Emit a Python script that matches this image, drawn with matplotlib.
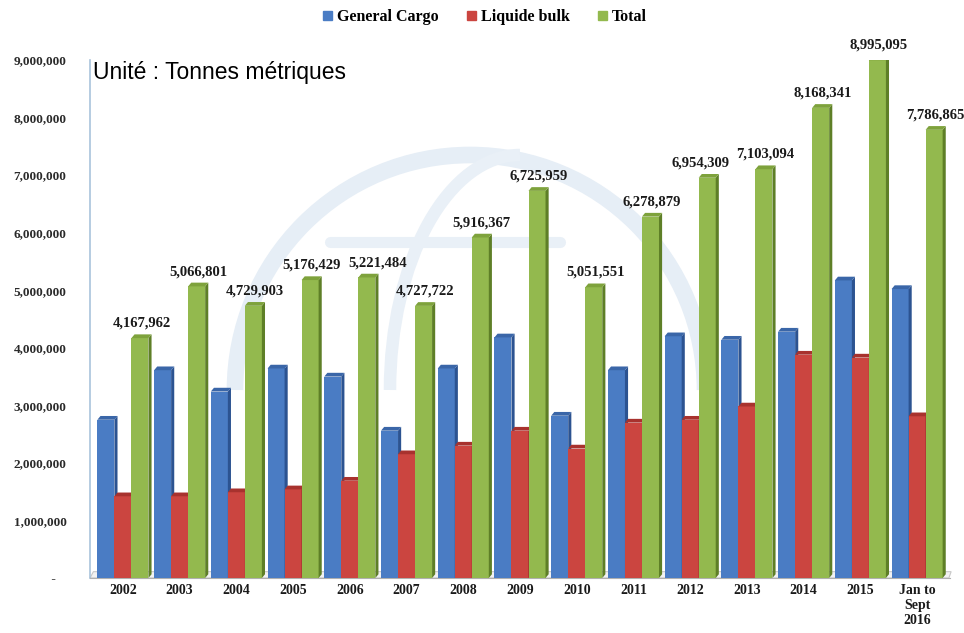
import numpy as np
import matplotlib
matplotlib.use("Agg")
import matplotlib.pyplot as plt
from matplotlib.patches import Polygon, Patch, Arc

# tonnage per year (metric tonnes)
years = ["2002", "2003", "2004", "2005", "2006", "2007", "2008", "2009",
         "2010", "2011", "2012", "2013", "2014", "2015", "Jan to\nSept\n2016"]
general_cargo = [2.75e6, 3.61e6, 3.24e6, 3.64e6, 3.50e6, 2.56e6, 3.64e6, 4.18e6,
                 2.82e6, 3.61e6, 4.20e6, 4.14e6, 4.28e6, 5.17e6, 5.02e6]
liquide_bulk = [1.42e6, 1.42e6, 1.49e6, 1.54e6, 1.69e6, 2.15e6, 2.30e6, 2.56e6,
                2.25e6, 2.70e6, 2.75e6, 2.98e6, 3.88e6, 3.83e6, 2.81e6]
total = [4167962, 5066801, 4729903, 5176429, 5221484, 4727722, 5916367, 6725959,
         5051551, 6278879, 6954309, 7103094, 8168341, 8995095, 7786865]
yticks = [0, 1e6, 2e6, 3e6, 4e6, 5e6, 6e6, 7e6, 8e6, 9e6]

serif = "Liberation Serif"

# front / side / top shades for the pseudo-3D boxes
blue = ("#4A7CC4", "#2C5391", "#3A66A8")
red = ("#CB4540", "#8C2A27", "#A8322E")
green = ("#93B94E", "#5E7F27", "#7EA23C")

# small sideways nudges (points) so neighbouring value labels don't collide
label_nudge = {4: 7, 10: -6}

fig = plt.figure(figsize=(9.64, 6.33), dpi=100)

# faint globe logo behind the plot
bg = fig.add_axes([0, 0, 1, 1], zorder=0)
bg.set_xlim(0, 964)
bg.set_ylim(633, 0)
bg.axis("off")
bg.add_patch(Arc((470, 390), 470, 470, theta1=180, theta2=360, color="#E6EEF6", lw=12))
bg.add_patch(Arc((520, 390), 260, 470, theta1=180, theta2=270, color="#E9F0F7", lw=9))
bg.plot([330, 560], [242, 242], color="#E9F0F7", lw=8, solid_capstyle="round")

ax = fig.add_axes([90 / 964, 1 - 578 / 633, 860 / 964, (578 - 60) / 633], zorder=1)
ax.patch.set_alpha(0)

x = np.arange(len(years))
w = 0.30
dx = 0.055
dz = 0.065e6


def box(ax, xl, h, shades, z):
    front, side, top = shades
    ax.bar(xl, h, width=w, align="edge", color=front, linewidth=0, zorder=z)
    ax.add_patch(Polygon([(xl + w, 0), (xl + w + dx, dz), (xl + w + dx, h + dz), (xl + w, h)],
                         closed=True, facecolor=side, edgecolor="none", zorder=z))
    ax.add_patch(Polygon([(xl, h), (xl + dx, h + dz), (xl + w + dx, h + dz), (xl + w, h)],
                         closed=True, facecolor=top, edgecolor="none", zorder=z))


for i in x:
    z = 3 + i * 0.01
    box(ax, i - 1.5 * w, general_cargo[i], blue, z)
    box(ax, i - 0.5 * w, liquide_bulk[i], red, z + 0.001)
    box(ax, i + 0.5 * w, total[i], green, z + 0.002)
    ax.annotate(f"{total[i]:,}", (i + w + dx / 2, total[i] + dz),
                xytext=(label_nudge.get(i, 0), 8),
                textcoords="offset points", ha="center", va="center",
                fontsize=10.5, fontweight="bold", family=serif, color="#1a1a1a",
                annotation_clip=False, zorder=10)

# thin floor under the bars
ax.add_patch(Polygon([(-0.58, 0), (-0.52, 0.11e6), (14.6, 0.11e6), (14.56, 0)],
                     closed=True, facecolor="#F2F2F2", edgecolor="#C8C8C8",
                     linewidth=0.8, zorder=2, clip_on=False))

ax.set_xlim(-0.58, 14.58)
ax.set_ylim(0, 9e6)
ax.set_yticks(yticks)
ax.set_yticklabels([" -   " if v == 0 else f"{int(v):,}" for v in yticks],
                   fontsize=9.5, fontweight="bold", family=serif, color="#2a2a2a")
ax.set_xticks(x)
ax.set_xticklabels(years, fontsize=10, fontweight="bold", family=serif,
                   color="#1a1a1a", linespacing=1.2)
ax.tick_params(axis="both", length=0)
ax.tick_params(axis="y", pad=17)
ax.tick_params(axis="x", pad=4)

for s in ["top", "right"]:
    ax.spines[s].set_visible(False)
ax.spines["left"].set_color("#A9C3DC")
ax.spines["left"].set_linewidth(1.2)
ax.spines["bottom"].set_color("#B0B0B0")

ax.text(0.004, 0.975, "Unité : Tonnes métriques", transform=ax.transAxes,
        fontsize=16.5, family="Liberation Sans", color="black", va="center", ha="left")

handles = [Patch(color=blue[0]), Patch(color=red[0]), Patch(color=green[0])]
fig.legend(handles, ["General Cargo", "Liquide bulk", "Total"], loc="center",
           bbox_to_anchor=(485 / 964, 1 - 17 / 633), ncol=3, frameon=False,
           handlelength=0.55, handleheight=0.55, handletextpad=0.3, columnspacing=1.8,
           prop={"family": serif, "weight": "bold", "size": 11.5})

fig.savefig("out.png", dpi=100)
